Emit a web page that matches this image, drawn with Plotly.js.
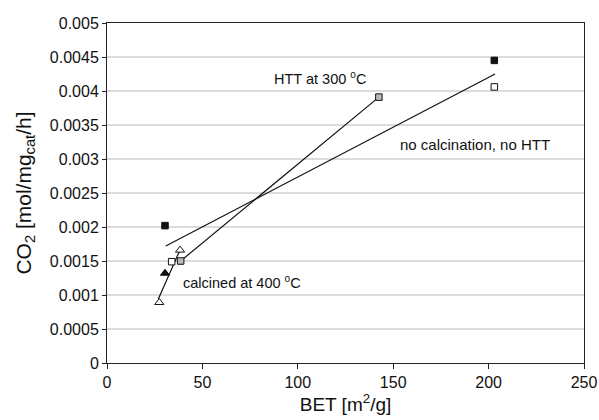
<!DOCTYPE html>
<html>
<head>
<meta charset="utf-8">
<script src="https://cdn.plot.ly/plotly-3.0.1.min.js"></script>
<style>html,body{margin:0;padding:0;background:#fff;}#chart{width:599px;height:420px;}</style>
</head>
<body>
<div id="chart"></div>
<script>
// Points
const filledSquareX = [30.4, 203];
const filledSquareY = [0.00202, 0.00445];
const openSquareX = [33.9, 203];
const openSquareY = [0.00149, 0.00406];
const dotSquareX = [38.6, 142.5];
const dotSquareY = [0.00150, 0.00391];
const openTriX = [27.4, 38.3];
const openTriY = [0.00089, 0.00166];
const filledTriX = [30.4];
const filledTriY = [0.00132];
// Trend lines
const lineNoCalcX = [30.8, 203.4];
const lineNoCalcY = [0.00172, 0.00425];
const lineHTTX = [38.6, 142.5];
const lineHTTY = [0.00150, 0.00391];
const lineCalcX = [26.9, 37.9];
const lineCalcY = [0.00094, 0.00164];
// Axis ticks
const xTicks = [0, 50, 100, 150, 200, 250];
const yTicks = [0, 0.0005, 0.001, 0.0015, 0.002, 0.0025, 0.003, 0.0035, 0.004, 0.0045, 0.005];
const yTickText = ['0', '0.0005', '0.001', '0.0015', '0.002', '0.0025', '0.003', '0.0035', '0.004', '0.0045', '0.005'];

const lineStyle = {color: '#111', width: 1.2};
const traces = [
  {x: lineNoCalcX, y: lineNoCalcY, mode: 'lines', line: lineStyle},
  {x: lineHTTX, y: lineHTTY, mode: 'lines', line: lineStyle},
  {x: lineCalcX, y: lineCalcY, mode: 'lines', line: lineStyle},
  {x: filledSquareX, y: filledSquareY, mode: 'markers', marker: {symbol: 'square', size: 6.5, color: '#111', line: {color: '#111', width: 1}}},
  {x: openSquareX, y: openSquareY, mode: 'markers', marker: {symbol: 'square', size: 6.5, color: '#fff', line: {color: '#111', width: 1}}},
  {x: dotSquareX, y: dotSquareY, mode: 'markers', marker: {symbol: 'square', size: 6.5, color: '#bbb', line: {color: '#111', width: 1}}},
  {x: openTriX, y: openTriY, mode: 'markers', marker: {symbol: 'triangle-up', size: 8, color: '#fff', line: {color: '#111', width: 1}}},
  {x: filledTriX, y: filledTriY, mode: 'markers', marker: {symbol: 'triangle-up', size: 8, color: '#111', line: {color: '#111', width: 1}}}
];

const fontFam = 'Liberation Sans, Arial, sans-serif';
const layout = {
  width: 599, height: 420,
  margin: {l: 107, r: 15, t: 23, b: 57},
  paper_bgcolor: '#fff', plot_bgcolor: '#fff',
  showlegend: false,
  font: {family: fontFam, size: 16, color: '#111'},
  xaxis: {
    range: [0, 250], tickvals: xTicks, ticktext: xTicks.map(String),
    showgrid: false, zeroline: false,
    showline: true, linecolor: '#222', linewidth: 1, mirror: true,
    ticks: 'outside', ticklen: 5, tickcolor: '#222',
    tickfont: {family: fontFam, size: 16, color: '#111'},
    title: {text: 'BET [m<sup>2</sup>/g]', font: {family: fontFam, size: 19, color: '#111'}, standoff: 6}
  },
  yaxis: {
    range: [0, 0.005], tickvals: yTicks, ticktext: yTickText,
    showgrid: true, gridcolor: '#dcdcdc', gridwidth: 1.5, zeroline: false,
    showline: true, linecolor: '#222', linewidth: 1, mirror: true,
    ticks: 'outside', ticklen: 4, tickcolor: '#222',
    tickfont: {family: fontFam, size: 16, color: '#111'},
    title: {text: 'CO<sub>2</sub> [mol/mg<sub>cat</sub>/h]', font: {family: fontFam, size: 21, color: '#111'}, standoff: 12}
  },
  annotations: [
    {x: 111.6, y: 0.00419, xref: 'x', yref: 'y', text: 'HTT at 300 <sup>o</sup>C', showarrow: false, font: {family: fontFam, size: 14.5, color: '#111'}, xanchor: 'center'},
    {x: 192.9, y: 0.00322, xref: 'x', yref: 'y', text: 'no calcination, no HTT', showarrow: false, font: {family: fontFam, size: 15, color: '#111'}, xanchor: 'center'},
    {x: 70.8, y: 0.00119, xref: 'x', yref: 'y', text: 'calcined at 400 <sup>o</sup>C', showarrow: false, font: {family: fontFam, size: 14.5, color: '#111'}, xanchor: 'center'}
  ]
};
Plotly.newPlot('chart', traces, layout, {displayModeBar: false, staticPlot: true});
</script>
</body>
</html>
